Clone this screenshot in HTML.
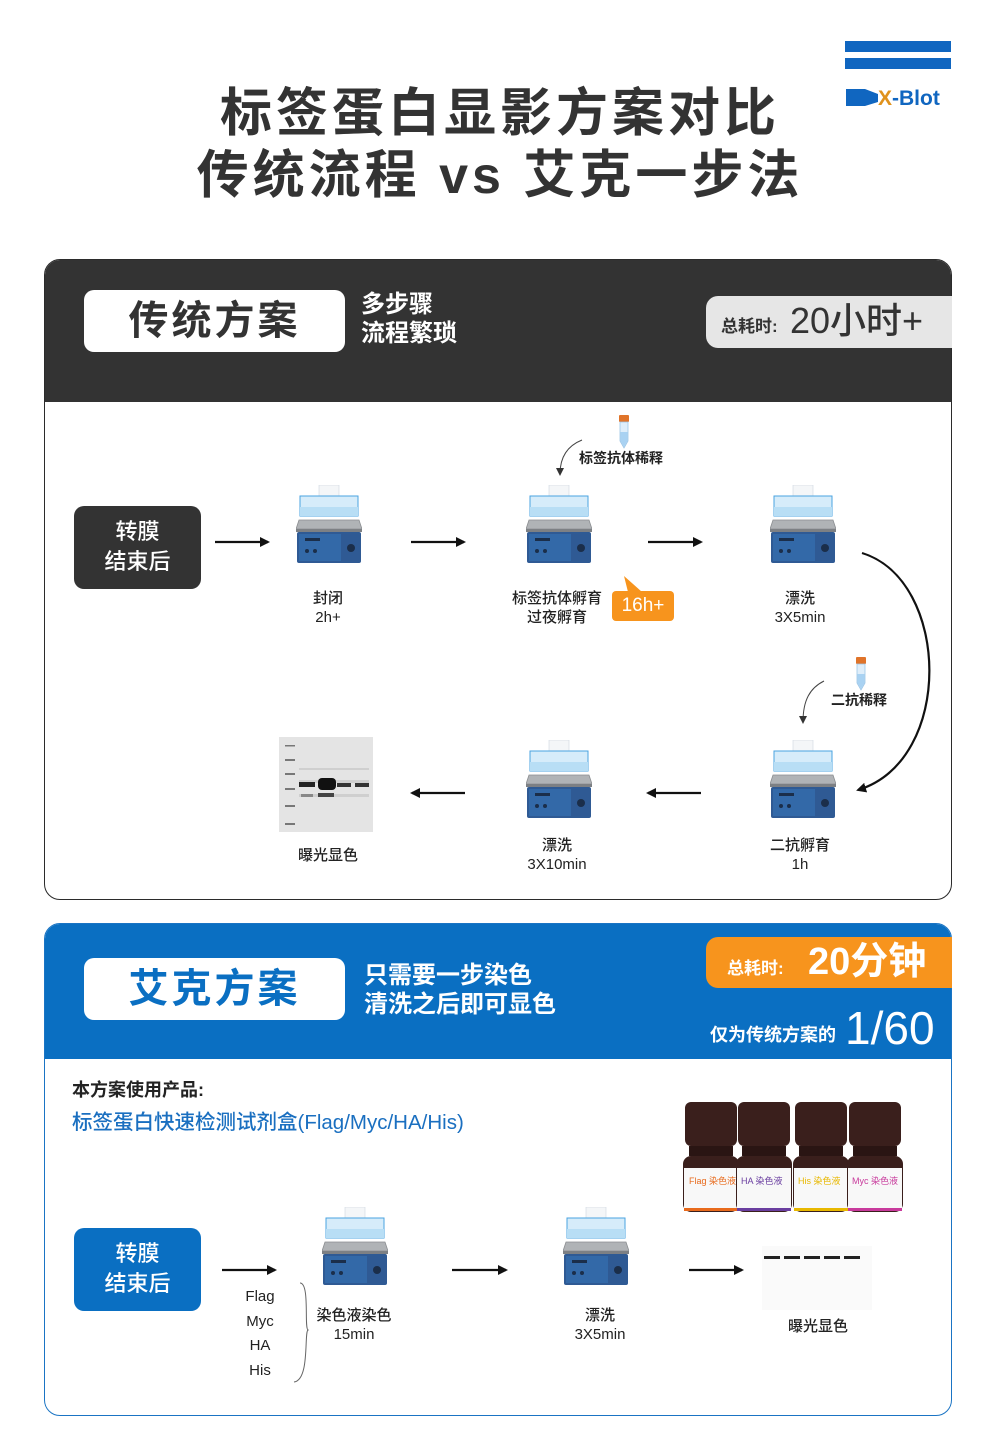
<!DOCTYPE html>
<html><head><meta charset="utf-8">
<style>
*{margin:0;padding:0;box-sizing:border-box}
body{width:1000px;height:1453px;background:#fff;position:relative;font-family:"Liberation Sans","Noto Sans CJK SC",sans-serif;color:#222;overflow:hidden}
.a{position:absolute}
.c{text-align:center}
.lbl{position:absolute;font-size:15px;line-height:19px;text-align:center;color:#222;font-weight:500}
</style></head><body>
<svg width="0" height="0" style="position:absolute">
<defs>
<symbol id="sh" viewBox="0 0 66 78">
<rect x="23" y="0" width="20" height="20" fill="#f4f6f8" stroke="#cfd8e0" stroke-width="0.6"/>
<path d="M4 11 L62 11 L62 31 L4 31 Z" fill="#d6ecfa" stroke="#4aa3e0" stroke-width="1"/>
<rect x="4" y="22" width="58" height="9" fill="#b8def5"/>
<path d="M0 44 L3 35 L63 35 L66 44 Z" fill="#b0b3b6" stroke="#8a8d90" stroke-width="0.8"/>
<rect x="0" y="44" width="66" height="3" fill="#7d8084"/>
<rect x="1" y="47" width="64" height="31" rx="2" fill="#2f5a94"/>
<rect x="3" y="49" width="42" height="27" fill="#3369a8"/>
<rect x="9" y="53" width="15" height="3" fill="#1b2e4a"/>
<circle cx="11" cy="66" r="2" fill="#1b2e4a"/><circle cx="19" cy="66" r="2" fill="#1b2e4a"/>
<circle cx="55" cy="63" r="4" fill="#1b2e4a"/>
</symbol>
<symbol id="tube" viewBox="0 0 12 34">
<rect x="1" y="0" width="10" height="7" rx="1" fill="#e0742a"/>
<path d="M2 7 L10 7 L10 26 L6 33 L2 26 Z" fill="#dfeefa" stroke="#9cc5e6" stroke-width="0.8"/>
<path d="M2.5 17 L9.5 17 L9.5 26 L6 32 L2.5 26 Z" fill="#a9d2f2"/>
</symbol>
<marker id="ar" markerWidth="10" markerHeight="10" refX="8" refY="5" orient="auto" markerUnits="userSpaceOnUse"><path d="M0 0 L10 5 L0 10 Z" fill="#111"/></marker>
<marker id="ar2" markerWidth="8" markerHeight="8" refX="6" refY="4" orient="auto" markerUnits="userSpaceOnUse"><path d="M0 0 L8 4 L0 8 Z" fill="#333"/></marker>
</defs>
</svg>

<!-- logo -->
<div class="a" style="left:845px;top:41px;width:106px;height:11px;background:#1066c0"></div>
<div class="a" style="left:845px;top:58px;width:106px;height:11px;background:#1066c0"></div>
<svg class="a" style="left:845px;top:86px" width="110" height="22"><path d="M1 3 L20 3 L33 8 L33 16 L20 20 L1 20 Z" fill="#1066c0"/>
<text x="33" y="19" font-family="Liberation Sans" font-weight="bold" font-size="21" fill="#e0921c">X</text>
<text x="47" y="19" font-family="Liberation Sans" font-weight="bold" font-size="21" fill="#1066c0">-Blot</text></svg>

<!-- title -->
<div class="a c" style="left:0;top:82px;width:1000px;font-size:52px;line-height:64px;font-weight:bold;letter-spacing:4px;color:#333">标签蛋白显影方案对比</div>
<div class="a c" style="left:0;top:144px;width:1000px;font-size:52px;line-height:64px;font-weight:bold;letter-spacing:4px;color:#333">传统流程 vs 艾克一步法</div>

<!-- section 1 -->
<div class="a" style="left:44px;top:259px;width:908px;height:641px;border:1.5px solid #2b2b2b;border-radius:16px;overflow:hidden">
 <div style="height:142px;background:#333"></div>
</div>
<div class="a c" style="left:84px;top:290px;width:261px;height:62px;background:#fff;border-radius:10px;font-size:40px;line-height:62px;font-weight:bold;color:#333;letter-spacing:3px">传统方案</div>
<div class="a" style="left:361px;top:290px;font-size:24px;line-height:29px;color:#fff;font-weight:bold">多步骤<br>流程繁琐</div>
<div class="a" style="left:706px;top:296px;width:246px;height:52px;background:#e6e6e6;border-radius:12px 0 0 12px;color:#333;white-space:nowrap">
 <span style="position:absolute;left:15px;top:16px;font-size:17px;font-weight:bold">总耗时:</span>
 <span style="position:absolute;left:84px;top:3px;font-size:36px;line-height:44px;font-weight:500">20小时+</span>
</div>

<div class="a c" style="left:74px;top:506px;width:127px;height:83px;background:#333;border-radius:10px;color:#fff;font-size:22px;line-height:30px;padding-top:11px;font-weight:500">转膜<br>结束后</div>

<svg class="a" style="left:0;top:0" width="1000" height="1453">
<g stroke="#111" stroke-width="2.2" fill="none" marker-end="url(#ar)">
<line x1="215" y1="542" x2="268" y2="542"/>
<line x1="411" y1="542" x2="464" y2="542"/>
<line x1="648" y1="542" x2="701" y2="542"/>
<line x1="465" y1="793" x2="412" y2="793"/>
<line x1="701" y1="793" x2="648" y2="793"/>
<path d="M862 553 C 950 580, 955 760, 858 790"/>
<line x1="222" y1="1270" x2="275" y2="1270"/>
<line x1="452" y1="1270" x2="506" y2="1270"/>
<line x1="689" y1="1270" x2="742" y2="1270"/>
</g>
<g stroke="#444" stroke-width="1" fill="none" marker-end="url(#ar2)">
<path d="M582 440 C 567 446, 560 458, 560 474"/>
<path d="M824 681 C 810 688, 803 700, 803 722"/>
</g>
<path d="M300 1283 C 310 1283, 304 1328, 308 1330 C 304 1332, 310 1380, 294 1382" stroke="#666" stroke-width="1" fill="none"/>
</svg>

<svg class="a" style="left:296px;top:485px" width="66" height="78"><use href="#sh"/></svg>
<svg class="a" style="left:526px;top:485px" width="66" height="78"><use href="#sh"/></svg>
<svg class="a" style="left:770px;top:485px" width="66" height="78"><use href="#sh"/></svg>
<svg class="a" style="left:526px;top:740px" width="66" height="78"><use href="#sh"/></svg>
<svg class="a" style="left:770px;top:740px" width="66" height="78"><use href="#sh"/></svg>
<svg class="a" style="left:618px;top:415px" width="12" height="34"><use href="#tube"/></svg>
<svg class="a" style="left:855px;top:657px" width="12" height="34"><use href="#tube"/></svg>

<div class="a" style="left:579px;top:448px;font-size:14px;font-weight:bold">标签抗体稀释</div>
<div class="a" style="left:831px;top:690px;font-size:14px;font-weight:bold">二抗稀释</div>

<div class="lbl" style="left:278px;top:589px;width:100px">封闭<br>2h+</div>
<div class="lbl" style="left:497px;top:589px;width:120px">标签抗体孵育<br>过夜孵育</div>
<div class="lbl" style="left:750px;top:589px;width:100px">漂洗<br>3X5min</div>
<div class="lbl" style="left:750px;top:836px;width:100px">二抗孵育<br>1h</div>
<div class="lbl" style="left:507px;top:836px;width:100px">漂洗<br>3X10min</div>
<div class="lbl" style="left:278px;top:846px;width:100px">曝光显色</div>

<div class="a" style="left:612px;top:591px;width:62px;height:30px;background:#f7941d;border-radius:4px;color:#fff;font-size:19px;line-height:30px;text-align:center">16h+</div>
<svg class="a" style="left:622px;top:576px" width="22" height="18"><path d="M2 0 L20 16 L6 16 Z" fill="#f7941d"/></svg>

<!-- gel -->
<svg class="a" style="left:279px;top:737px" width="94" height="95">
<rect width="94" height="95" fill="#e4e4e4"/>
<g fill="#777"><rect x="6" y="8" width="10" height="1.5"/><rect x="6" y="22" width="10" height="2"/><rect x="6" y="36" width="10" height="2"/><rect x="6" y="51" width="10" height="2"/><rect x="6" y="68" width="10" height="2"/><rect x="6" y="86" width="10" height="2"/></g>
<g fill="#cfcfcf"><rect x="20" y="31" width="70" height="2"/><rect x="20" y="43" width="70" height="3"/><rect x="20" y="57" width="70" height="3"/></g>
<rect x="20" y="45" width="16" height="5" fill="#222"/>
<rect x="39" y="41" width="18" height="12" rx="4" fill="#111"/>
<rect x="39" y="56" width="16" height="4" fill="#444"/>
<rect x="22" y="57" width="12" height="3" fill="#888"/>
<rect x="58" y="46" width="14" height="4" fill="#333"/>
<rect x="76" y="46" width="14" height="4" fill="#333"/>
</svg>

<!-- section 2 -->
<div class="a" style="left:44px;top:923px;width:908px;height:493px;border:1.5px solid #1a74c4;border-radius:16px;overflow:hidden">
 <div style="height:135px;background:#0a6fc2"></div>
</div>
<div class="a c" style="left:84px;top:958px;width:261px;height:62px;background:#fff;border-radius:10px;font-size:40px;line-height:62px;font-weight:bold;color:#0a6fc2;letter-spacing:3px">艾克方案</div>
<div class="a" style="left:364px;top:961px;font-size:24px;line-height:29px;color:#fff;font-weight:bold">只需要一步染色<br>清洗之后即可显色</div>
<div class="a" style="left:706px;top:937px;width:246px;height:51px;background:#f7941d;border-radius:12px 0 0 12px;color:#fff;white-space:nowrap">
 <span style="position:absolute;left:21px;top:17px;font-size:17px;font-weight:bold">总耗时:</span>
 <span style="position:absolute;left:102px;top:2px;font-size:38px;line-height:46px;font-weight:bold">20分钟</span>
</div>
<div class="a" style="left:710px;top:1021px;font-size:18px;color:#fff;font-weight:bold">仅为传统方案的</div>
<div class="a" style="left:845px;top:1001px;font-size:46px;line-height:54px;color:#fff">1/60</div>

<div class="a" style="left:72px;top:1076px;font-size:18px;font-weight:bold;color:#222">本方案使用产品:</div>
<div class="a" style="left:72px;top:1105px;font-size:20.5px;color:#1a6fc0;font-weight:500">标签蛋白快速检测试剂盒(Flag/Myc/HA/His)</div>

<!-- bottles -->
<svg class="a" style="left:680px;top:1098px" width="232" height="118">
<g>
<g transform="translate(3,0)"><rect x="2" y="4" width="52" height="44" rx="6" fill="#3a1f1c"/><rect x="6" y="48" width="44" height="10" fill="#2a1513"/><rect x="0" y="58" width="56" height="56" rx="8" fill="#3a1f1c"/><rect x="1" y="70" width="54" height="42" fill="#f8f8f8"/><rect x="1" y="110" width="54" height="3" fill="#e86a1c"/><text x="6" y="86" font-size="9" fill="#e86a1c" font-family="Liberation Sans,Noto Sans CJK SC,sans-serif">Flag 染色液</text></g>
<g transform="translate(56,0)"><rect x="2" y="4" width="52" height="44" rx="6" fill="#3a1f1c"/><rect x="6" y="48" width="44" height="10" fill="#2a1513"/><rect x="0" y="58" width="56" height="56" rx="8" fill="#3a1f1c"/><rect x="1" y="70" width="54" height="42" fill="#f8f8f8"/><rect x="1" y="110" width="54" height="3" fill="#6a3ea0"/><text x="5" y="86" font-size="9" fill="#6a3ea0" font-family="Liberation Sans,Noto Sans CJK SC,sans-serif">HA 染色液</text></g>
<g transform="translate(113,0)"><rect x="2" y="4" width="52" height="44" rx="6" fill="#3a1f1c"/><rect x="6" y="48" width="44" height="10" fill="#2a1513"/><rect x="0" y="58" width="56" height="56" rx="8" fill="#3a1f1c"/><rect x="1" y="70" width="54" height="42" fill="#f8f8f8"/><rect x="1" y="110" width="54" height="3" fill="#e8b800"/><text x="5" y="86" font-size="9" fill="#e8b800" font-family="Liberation Sans,Noto Sans CJK SC,sans-serif">His 染色液</text></g>
<g transform="translate(167,0)"><rect x="2" y="4" width="52" height="44" rx="6" fill="#3a1f1c"/><rect x="6" y="48" width="44" height="10" fill="#2a1513"/><rect x="0" y="58" width="56" height="56" rx="8" fill="#3a1f1c"/><rect x="1" y="70" width="54" height="42" fill="#f8f8f8"/><rect x="1" y="110" width="54" height="3" fill="#c83a9c"/><text x="5" y="86" font-size="9" fill="#c83a9c" font-family="Liberation Sans,Noto Sans CJK SC,sans-serif">Myc 染色液</text></g>
</g>
</svg>

<div class="a c" style="left:74px;top:1228px;width:127px;height:83px;background:#0a6fc2;border-radius:10px;color:#fff;font-size:22px;line-height:30px;padding-top:11px;font-weight:500">转膜<br>结束后</div>

<svg class="a" style="left:322px;top:1207px" width="66" height="78"><use href="#sh"/></svg>
<svg class="a" style="left:563px;top:1207px" width="66" height="78"><use href="#sh"/></svg>

<div class="a c" style="left:230px;top:1285px;width:60px;font-size:15px;line-height:24.5px">Flag<br>Myc<br>HA<br>His</div>
<div class="lbl" style="left:304px;top:1306px;width:100px">染色液染色<br>15min</div>
<div class="lbl" style="left:550px;top:1306px;width:100px">漂洗<br>3X5min</div>

<div class="a" style="left:762px;top:1246px;width:110px;height:64px;background:#fafafa"></div>
<div class="a" style="left:764px;top:1256px;width:96px;height:3px;background:repeating-linear-gradient(90deg,#222 0 16px,transparent 16px 20px)"></div>
<div class="lbl" style="left:768px;top:1317px;width:100px">曝光显色</div>
</body></html>
